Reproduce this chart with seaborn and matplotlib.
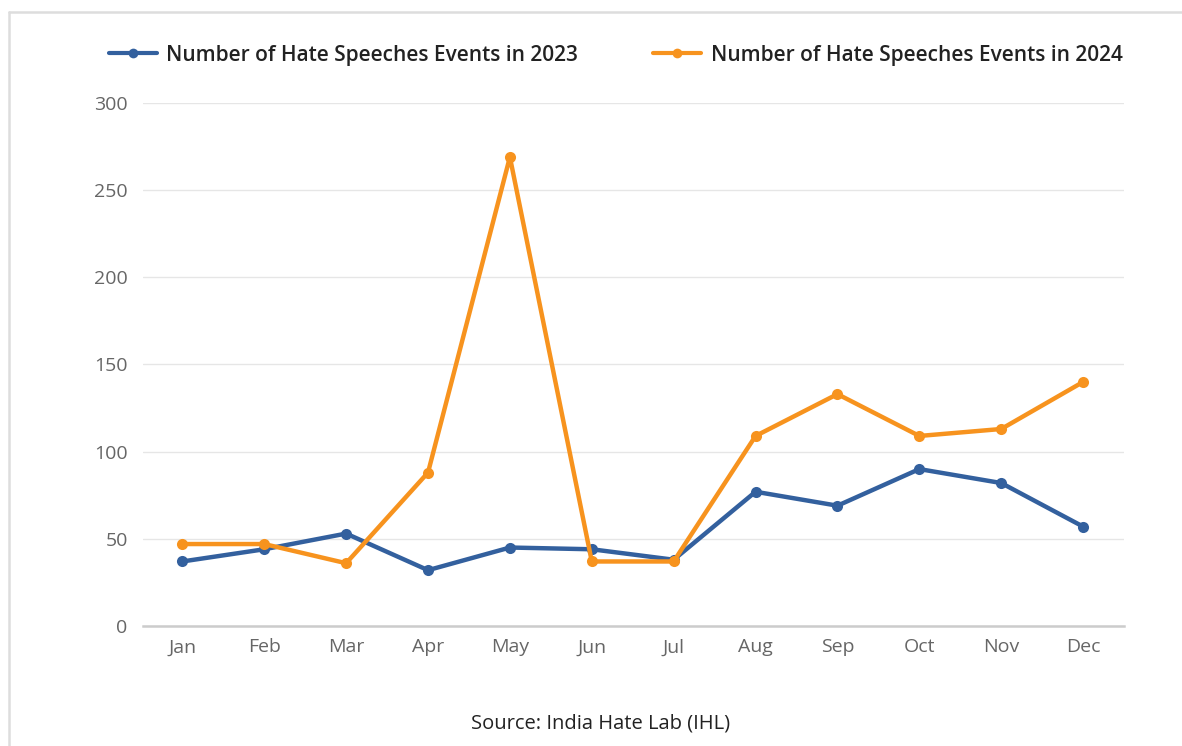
import matplotlib
matplotlib.use("Agg")
import matplotlib.pyplot as plt
from matplotlib.lines import Line2D
import seaborn as sns
import pandas as pd

months = ["Jan", "Feb", "Mar", "Apr", "May", "Jun", "Jul", "Aug", "Sep", "Oct", "Nov", "Dec"]
events_2023 = [37, 44, 53, 32, 45, 44, 38, 77, 69, 90, 82, 57]
events_2024 = [47, 47, 36, 88, 269, 37, 37, 109, 133, 109, 113, 140]
series_names = ["Number of Hate Speeches Events in 2023", "Number of Hate Speeches Events in 2024"]
y_ticks = [0, 50, 100, 150, 200, 250, 300]
source_text = "Source: India Hate Lab (IHL)"

sns.set_theme(style="white")
plt.rcParams["font.family"] = ["Open Sans", "DejaVu Sans"]

df = pd.DataFrame({
    "month": months * 2,
    "x": list(range(len(months))) * 2,
    "value": events_2023 + events_2024,
    "series": [series_names[0]] * len(months) + [series_names[1]] * len(months),
})

fig = plt.figure(figsize=(11.82, 7.46), dpi=100)
ax = fig.add_axes([0.121, 0.1609, 0.830, 0.7010])

palette = {series_names[0]: "#33609e", series_names[1]: "#f7931e"}
sns.lineplot(data=df, x="x", y="value", hue="series", palette=palette,
             marker="o", markersize=8, markeredgewidth=0, linewidth=3.2,
             ax=ax, legend=False)

ax.set_xlim(-0.48, 11.5)
ax.set_ylim(0, 300)
ax.set_yticks(y_ticks)
ax.set_xticks(range(len(months)))
ax.set_xticklabels(months)
ax.set_xlabel("")
ax.set_ylabel("")
ax.grid(axis="y", color="#e6e6e6", linewidth=1.0)
ax.set_axisbelow(True)
for s in ["top", "right", "left"]:
    ax.spines[s].set_visible(False)
ax.spines["bottom"].set_color("#cccccc")
ax.spines["bottom"].set_linewidth(1.8)
ax.tick_params(axis="both", length=0, labelsize=14, labelcolor="#666666")
ax.tick_params(axis="y", pad=11)
ax.tick_params(axis="x", pad=9)

handles = [
    Line2D([], [], color=palette[series_names[0]], marker="o", markersize=7, linewidth=3, markeredgewidth=0),
    Line2D([], [], color=palette[series_names[1]], marker="o", markersize=7, linewidth=3, markeredgewidth=0),
]
fig.legend(handles, series_names, loc="center", bbox_to_anchor=(0.521, 0.926), ncol=2,
           frameon=False, handlelength=2.3, columnspacing=3.6, handletextpad=0.45,
           prop={"family": ["Open Sans", "DejaVu Sans"], "weight": "semibold", "size": 15},
           labelcolor="#222222")

fig.text(0.508, 0.030, source_text, ha="center", va="center", fontsize=14.5, color="#222222")

fig.add_artist(Line2D([0.0076, 1.0], [0.984, 0.984], transform=fig.transFigure, color="#dddddd", linewidth=1.8))
fig.add_artist(Line2D([0.0076, 0.0076], [0.0, 0.984], transform=fig.transFigure, color="#dddddd", linewidth=1.8))

fig.savefig("out.png", dpi=100, facecolor="white")
